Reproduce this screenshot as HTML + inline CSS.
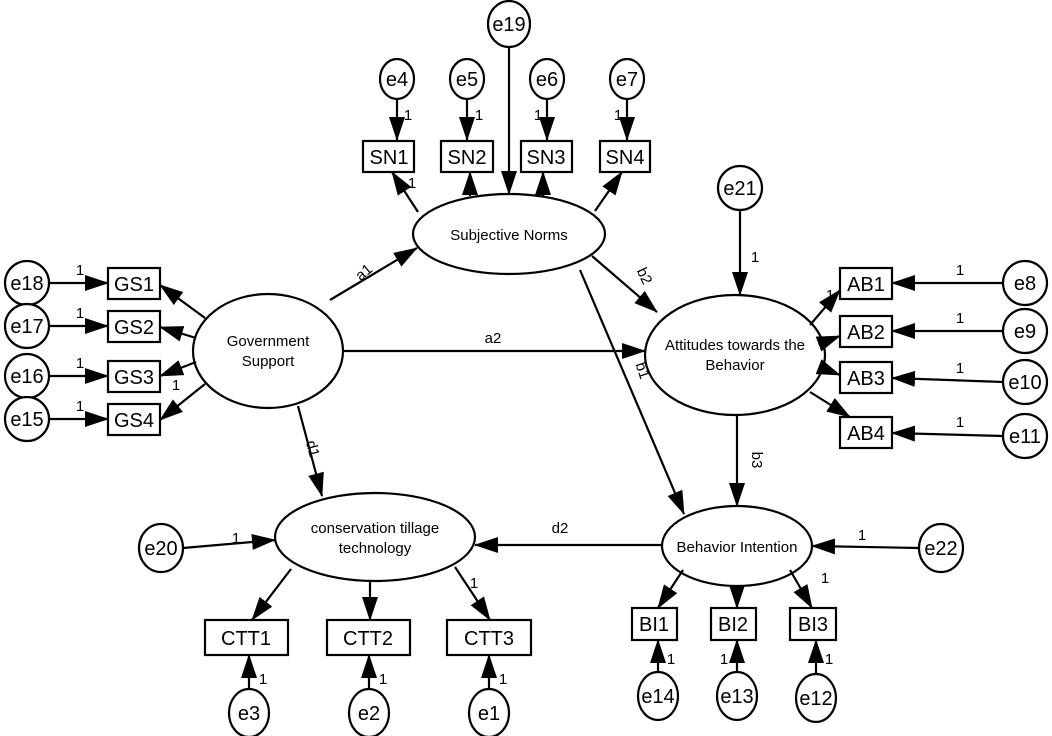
<!DOCTYPE html>
<html><head><meta charset="utf-8"><style>
html,body{margin:0;padding:0;background:#fff}
svg{display:block}
text{font-family:"Liberation Sans",Arial,sans-serif;fill:#000}
</style></head><body>
<svg width="1052" height="736" viewBox="0 0 1052 736" xmlns="http://www.w3.org/2000/svg">
<defs>
<marker id="a" markerUnits="userSpaceOnUse" markerWidth="24" markerHeight="16" refX="23" refY="8" orient="auto">
<path d="M0,0 L24,8 L0,16 Z" fill="#000"/></marker>
</defs>
<g stroke="#000" stroke-width="2.2" fill="#fff">
<ellipse cx="509" cy="24" rx="21" ry="23"/>
<ellipse cx="397" cy="79" rx="17" ry="20"/>
<ellipse cx="467" cy="79" rx="17" ry="20"/>
<ellipse cx="547" cy="79" rx="17" ry="20"/>
<ellipse cx="627" cy="79" rx="17" ry="20"/>
<rect x="363" y="141" width="51" height="31"/>
<rect x="441" y="141" width="52" height="31"/>
<rect x="521" y="141" width="51" height="31"/>
<rect x="600" y="141" width="50" height="31"/>
<ellipse cx="509" cy="234" rx="96" ry="40"/>
<ellipse cx="740" cy="188" rx="22" ry="22"/>
<ellipse cx="268" cy="351" rx="75" ry="57"/>
<rect x="108" y="268" width="52" height="31"/>
<rect x="108" y="311" width="52" height="31"/>
<rect x="108" y="361" width="52" height="31"/>
<rect x="108" y="404" width="52" height="31"/>
<ellipse cx="27" cy="283" rx="22" ry="22"/>
<ellipse cx="27" cy="326" rx="22" ry="22"/>
<ellipse cx="27" cy="376" rx="22" ry="22"/>
<ellipse cx="27" cy="419" rx="22" ry="22"/>
<ellipse cx="735" cy="355" rx="90" ry="60"/>
<rect x="840" y="268" width="52" height="31"/>
<rect x="840" y="316" width="52" height="31"/>
<rect x="840" y="362" width="52" height="31"/>
<rect x="840" y="417" width="52" height="31"/>
<ellipse cx="1025" cy="283" rx="22" ry="22"/>
<ellipse cx="1025" cy="331" rx="22" ry="22"/>
<ellipse cx="1025" cy="382" rx="22" ry="22"/>
<ellipse cx="1025" cy="436" rx="22" ry="22"/>
<ellipse cx="375" cy="537" rx="100" ry="44"/>
<ellipse cx="737" cy="546" rx="75" ry="40"/>
<ellipse cx="161" cy="548" rx="22" ry="24"/>
<ellipse cx="941" cy="548" rx="22" ry="24"/>
<rect x="205" y="620" width="83" height="35"/>
<rect x="327" y="620" width="83" height="35"/>
<rect x="447" y="620" width="84" height="35"/>
<ellipse cx="249" cy="713" rx="20" ry="24"/>
<ellipse cx="369" cy="713" rx="20" ry="24"/>
<ellipse cx="489" cy="713" rx="20" ry="24"/>
<rect x="632" y="608" width="45" height="32"/>
<rect x="711" y="608" width="45" height="32"/>
<rect x="790" y="608" width="46" height="32"/>
<ellipse cx="658" cy="696" rx="20" ry="24"/>
<ellipse cx="737" cy="696" rx="20" ry="24"/>
<ellipse cx="816" cy="698" rx="20" ry="24"/>
</g>
<g stroke="#000" stroke-width="2.2" fill="none" marker-end="url(#a)">
<line x1="509" y1="47" x2="509" y2="194"/>
<line x1="397" y1="99" x2="397" y2="140"/>
<line x1="467" y1="99" x2="467" y2="140"/>
<line x1="547" y1="99" x2="547" y2="140"/>
<line x1="627" y1="99" x2="627" y2="140"/>
<line x1="418" y1="212" x2="392" y2="172"/>
<line x1="470" y1="196" x2="470" y2="172"/>
<line x1="543" y1="196" x2="543" y2="172"/>
<line x1="595" y1="211" x2="622" y2="172"/>
<line x1="49" y1="283" x2="108" y2="283"/>
<line x1="49" y1="326" x2="108" y2="326"/>
<line x1="49" y1="376" x2="108" y2="376"/>
<line x1="49" y1="419" x2="108" y2="419"/>
<line x1="205" y1="318" x2="160" y2="285"/>
<line x1="196" y1="338" x2="160" y2="327"/>
<line x1="196" y1="362" x2="160" y2="376"/>
<line x1="205" y1="384" x2="160" y2="420"/>
<line x1="330" y1="300" x2="417" y2="248"/>
<line x1="343" y1="351" x2="645" y2="351"/>
<line x1="580" y1="270" x2="684" y2="514"/>
<line x1="592" y1="256" x2="657" y2="312"/>
<line x1="737" y1="415" x2="737" y2="506"/>
<line x1="298" y1="406" x2="322" y2="496"/>
<line x1="662" y1="545" x2="475" y2="545"/>
<line x1="740" y1="210" x2="740" y2="295"/>
<line x1="183" y1="548" x2="275" y2="540"/>
<line x1="919" y1="548" x2="812" y2="546"/>
<line x1="810" y1="325" x2="840" y2="290"/>
<line x1="824" y1="342" x2="840" y2="336"/>
<line x1="822" y1="368" x2="840" y2="375"/>
<line x1="810" y1="392" x2="850" y2="417"/>
<line x1="1003" y1="283" x2="892" y2="283"/>
<line x1="1003" y1="331" x2="892" y2="331"/>
<line x1="1003" y1="382" x2="892" y2="378"/>
<line x1="1003" y1="436" x2="892" y2="433"/>
<line x1="291" y1="569" x2="252" y2="620"/>
<line x1="370" y1="581" x2="370" y2="620"/>
<line x1="455" y1="567" x2="490" y2="620"/>
<line x1="249" y1="689" x2="249" y2="655"/>
<line x1="369" y1="689" x2="369" y2="655"/>
<line x1="489" y1="689" x2="489" y2="655"/>
<line x1="683" y1="570" x2="658" y2="608"/>
<line x1="737" y1="586" x2="737" y2="608"/>
<line x1="790" y1="570" x2="812" y2="608"/>
<line x1="658" y1="672" x2="658" y2="640"/>
<line x1="737" y1="672" x2="737" y2="640"/>
<line x1="816" y1="674" x2="816" y2="640"/>
</g>
<g font-size="20" text-anchor="middle">
<text x="509" y="31">e19</text>
<text x="397" y="86">e4</text><text x="467" y="86">e5</text><text x="547" y="86">e6</text><text x="627" y="86">e7</text>
<text x="389" y="164">SN1</text><text x="467" y="164">SN2</text><text x="546" y="164">SN3</text><text x="625" y="164">SN4</text>
<text x="740" y="195">e21</text>
<text x="134" y="291">GS1</text><text x="134" y="334">GS2</text><text x="134" y="384">GS3</text><text x="134" y="427">GS4</text>
<text x="27" y="290">e18</text><text x="27" y="333">e17</text><text x="27" y="383">e16</text><text x="27" y="426">e15</text>
<text x="866" y="291">AB1</text><text x="866" y="339">AB2</text><text x="866" y="385">AB3</text><text x="866" y="440">AB4</text>
<text x="1025" y="290">e8</text><text x="1025" y="338">e9</text><text x="1025" y="389">e10</text><text x="1025" y="443">e11</text>
<text x="161" y="555">e20</text><text x="941" y="555">e22</text>
<text x="246" y="645">CTT1</text><text x="368" y="645">CTT2</text><text x="489" y="645">CTT3</text>
<text x="249" y="720">e3</text><text x="369" y="720">e2</text><text x="489" y="720">e1</text>
<text x="654" y="631">BI1</text><text x="733" y="631">BI2</text><text x="813" y="631">BI3</text>
<text x="658" y="703">e14</text><text x="737" y="703">e13</text><text x="816" y="705">e12</text>
</g>
<g font-size="15" text-anchor="middle">
<text x="509" y="240">Subjective Norms</text>
<text x="268" y="346">Government</text><text x="268" y="366">Support</text>
<text x="735" y="350">Attitudes towards the</text><text x="735" y="370">Behavior</text>
<text x="375" y="533">conservation tillage</text><text x="375" y="553">technology</text>
<text x="737" y="552">Behavior Intention</text>
</g>
<g font-size="15" text-anchor="middle">
<text transform="translate(367,276) rotate(-40)">a1</text>
<text x="493" y="343">a2</text>
<text transform="translate(640,278) rotate(65)">b2</text>
<text transform="translate(638,372) rotate(72)">b1</text>
<text transform="translate(752,460) rotate(90)">b3</text>
<text transform="translate(308,450) rotate(75)">d1</text>
<text x="560" y="533">d2</text>
<text x="80" y="275">1</text><text x="80" y="318">1</text><text x="80" y="368">1</text><text x="80" y="411">1</text>
<text x="176" y="390">1</text>
<text x="408" y="120">1</text><text x="479" y="120">1</text><text x="538" y="120">1</text><text x="618" y="120">1</text>
<text x="412" y="188">1</text>
<text x="755" y="262">1</text>
<text x="830" y="300">1</text>
<text x="960" y="275">1</text><text x="960" y="323">1</text><text x="960" y="373">1</text><text x="960" y="427">1</text>
<text x="236" y="543">1</text><text x="862" y="540">1</text>
<text x="474" y="588">1</text><text x="825" y="583">1</text>
<text x="263" y="684">1</text><text x="383" y="684">1</text><text x="503" y="684">1</text>
<text x="671" y="664">1</text><text x="724" y="664">1</text><text x="829" y="664">1</text>
</g>
</svg>
</body></html>
